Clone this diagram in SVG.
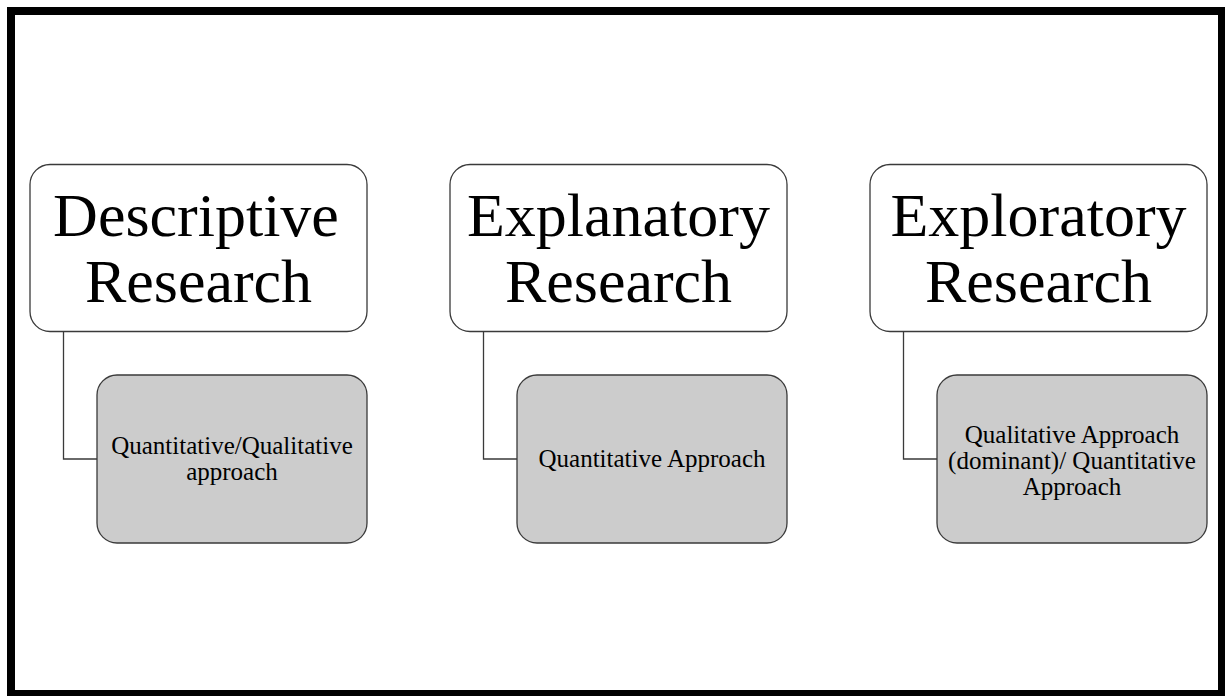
<svg xmlns="http://www.w3.org/2000/svg" width="1225" height="696" viewBox="0 0 1225 696">
  <style>
    .frame { fill: #ffffff; stroke: #000000; stroke-width: 8; }
    .head { fill: #ffffff; stroke: #3a3a3a; stroke-width: 1.3; }
    .sub { fill: #cccccc; stroke: #3a3a3a; stroke-width: 1.3; }
    .link { fill: none; stroke: #3a3a3a; stroke-width: 1.3; }
    .title { font-family: "Liberation Serif", "Times New Roman", serif; font-size: 62px; fill: #000000; text-anchor: middle; }
    .label { font-family: "Liberation Serif", "Times New Roman", serif; font-size: 25px; fill: #000000; text-anchor: middle; }
  </style>

  <!-- outer frame -->
  <rect class="frame" x="11" y="11" width="1211" height="683"/>

  <!-- elbow connectors from each heading to its approach box -->
  <g id="connectors">
    <path class="link" d="M63.5,332 V459 H97"/>
    <path class="link" d="M483.5,332 V459 H517"/>
    <path class="link" d="M903.5,332 V459 H937"/>
  </g>

  <g id="descriptive">
    <rect class="head" x="30" y="164.5" width="337" height="167" rx="20" ry="20"/>
    <text class="title" x="196" y="236">Descriptive</text>
    <text class="title" x="198.5" y="302">Research</text>
  </g>

  <g id="descriptive-approach">
    <rect class="sub" x="97" y="375" width="270" height="168" rx="20" ry="20"/>
    <text class="label" x="232" y="454">Quantitative/Qualitative</text>
    <text class="label" x="232" y="480">approach</text>
  </g>

  <g id="explanatory">
    <rect class="head" x="450" y="164.5" width="337" height="167" rx="20" ry="20"/>
    <text class="title" x="618.5" y="236">Explanatory</text>
    <text class="title" x="618.5" y="302">Research</text>
  </g>

  <g id="explanatory-approach">
    <rect class="sub" x="517" y="375" width="270" height="168" rx="20" ry="20"/>
    <text class="label" x="652" y="467">Quantitative Approach</text>
  </g>

  <g id="exploratory">
    <rect class="head" x="870" y="164.5" width="337" height="167" rx="20" ry="20"/>
    <text class="title" x="1038.5" y="236">Exploratory</text>
    <text class="title" x="1038.5" y="302">Research</text>
  </g>

  <g id="exploratory-approach">
    <rect class="sub" x="937" y="375" width="270" height="168" rx="20" ry="20"/>
    <text class="label" x="1072" y="443">Qualitative Approach</text>
    <text class="label" x="1072" y="469">(dominant)/ Quantitative</text>
    <text class="label" x="1072" y="495">Approach</text>
  </g>
</svg>
